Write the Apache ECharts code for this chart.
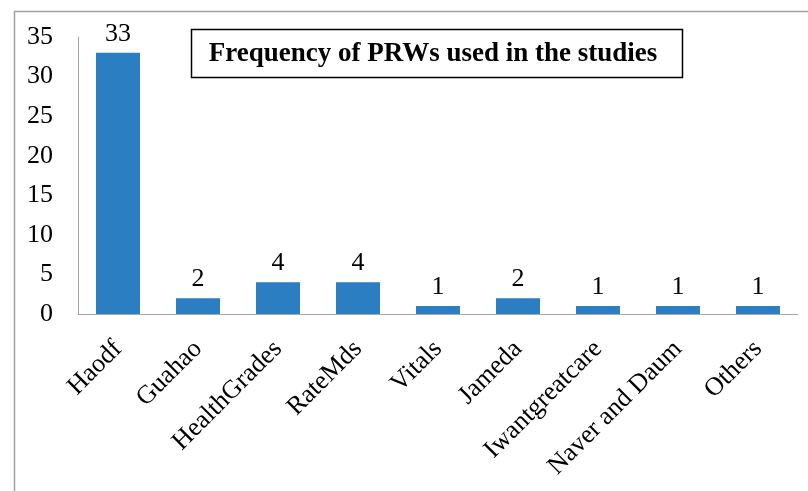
<!DOCTYPE html>
<html><head><meta charset="utf-8">
<script src="https://cdn.jsdelivr.net/npm/echarts@6/dist/echarts.min.js"></script>
<style>html,body{margin:0;padding:0;background:#fff}#c{width:808px;height:491px}</style>
</head><body><div id="c"></div>
<script>
var categories = ["Haodf","Guahao","HealthGrades","RateMds","Vitals","Jameda","Iwantgreatcare","Naver and Daum","Others"];
var counts = [33,2,4,4,1,2,1,1,1];
var yTicks = {min:0,max:35,interval:5};
var titleText = "Frequency of PRWs used in the studies";

var chart = echarts.init(document.getElementById('c'), null, {renderer:'canvas'});
var font = "'Liberation Serif','Times New Roman',serif";
chart.setOption({
  animation:false,
  backgroundColor:'#fff',
  grid:{left:78,right:10,top:37,bottom:177,containLabel:false},
  xAxis:{type:'category',data:categories,
    axisLine:{show:true,lineStyle:{color:'#A6A6A6',width:1}},
    axisTick:{show:false},
    axisLabel:{rotate:45,interval:0,margin:31,fontFamily:font,fontSize:26,color:'#000'}},
  yAxis:{type:'value',min:yTicks.min,max:yTicks.max,interval:yTicks.interval,
    splitLine:{show:false},
    axisLine:{show:true,lineStyle:{color:'#A6A6A6',width:1}},
    axisTick:{show:false},
    axisLabel:{margin:25,fontFamily:font,fontSize:26,color:'#000'}},
  series:[{type:'bar',data:counts,barWidth:'55%',
    itemStyle:{color:'#2A7EC1'},
    label:{show:true,position:'top',distance:6,fontFamily:font,fontSize:26,color:'#000'}}],
  graphic:[
    {type:'line',shape:{x1:14,y1:11.5,x2:808,y2:11.5},style:{stroke:'#A0A0A0',lineWidth:1.5}},
    {type:'line',shape:{x1:14.5,y1:11,x2:14.5,y2:491},style:{stroke:'#A0A0A0',lineWidth:1.5}},
    {type:'rect',shape:{x:191.5,y:29.5,width:491,height:48},style:{fill:'#fff',stroke:'#000',lineWidth:1.5}},
    {type:'text',x:433,y:54,style:{text:titleText,font:"bold 27px "+font,fill:'#000',align:'center',verticalAlign:'middle'}}
  ]
});
</script></body></html>
